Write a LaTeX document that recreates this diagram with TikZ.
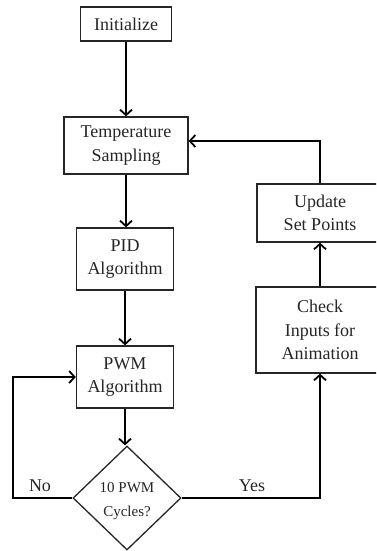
\documentclass[tikz,border=0pt]{standalone}
\usepackage{fontspec}
\setmainfont{Liberation Serif}
\usetikzlibrary{arrows.meta,shapes.geometric,calc}
\begin{document}
\begin{tikzpicture}[x=1pt,y=-1pt,
  box/.style={draw=black!85,line width=1.3pt,rectangle,inner sep=0pt,align=center,
    font=\fontsize{18}{23.5}\selectfont,text=black!85},
  dec/.style={draw=black!85,line width=1.3pt,diamond,inner sep=0pt,align=center,
    font=\fontsize{15}{24}\selectfont,text=black!85,minimum width=108pt,minimum height=104pt,aspect=1.04},
  conn/.style={line width=1.8pt,-{Straight Barb[length=5.5pt,width=12pt,line width=1.8pt]}},
  lbl/.style={font=\fontsize{18}{23.5}\selectfont,text=black!85,inner sep=0pt}]
\useasboundingbox (0,0) rectangle (376,551);
\clip (0,0) rectangle (376,551);
\fill[white] (0,0) rectangle (376,551);
\node[box,minimum width=91pt,minimum height=34pt] (init) at (126,24) {Initialize};
\node[box,minimum width=124pt,minimum height=57pt] (temp) at (126,145.5) {Temperature\\Sampling};
\node[box,minimum width=97pt,minimum height=62pt] (pid) at (125,259) {PID\\Algorithm};
\node[box,minimum width=97pt,minimum height=62pt] (pwm) at (125,377) {PWM\\Algorithm};
\node[dec] (cyc) at (127,498) {};
\node[font=\fontsize{15}{24}\selectfont,text=black!85,align=center,inner sep=0pt] (cyct) at (127,501) {10 PWM\\Cycles?};
\node[box,minimum width=126pt,minimum height=58pt] (upd) at (320,213) {Update\\Set Points};
\node[box,minimum width=128pt,minimum height=86pt] (chk) at (320,330) {Check\\Inputs for\\Animation};
\coordinate (noc) at (13,498);
\coordinate (yesc) at (320,498);
\node[lbl] (no) at (40,486) {No};
\node[lbl] (yes) at (252,486) {Yes};
\draw[conn] (init.south) -- (init.south |- temp.north);
\draw[conn] (temp.south) -- (temp.south |- pid.north);
\draw[conn] (pid.south) -- (pid.south |- pwm.north);
\draw[conn] (pwm.south) -- (pwm.south |- cyc.north);
\draw[conn] (cyc.west) -- (noc) |- (pwm.west);
\draw[conn] (cyc.east) -- (yesc) -- (chk.south);
\draw[conn] (chk.north) -- (upd.south);
\draw[conn] (upd.north) |- ([yshift=4.5pt]temp.east);
\end{tikzpicture}
\end{document}
